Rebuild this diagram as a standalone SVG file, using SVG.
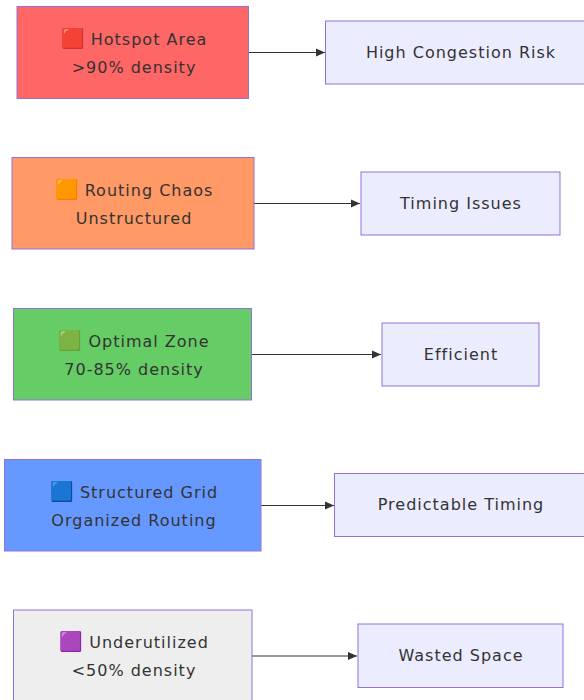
<svg xmlns="http://www.w3.org/2000/svg" width="584" height="700" viewBox="0 0 584 700">
<defs>
<marker id="arr" viewBox="0 0 10 10" refX="10" refY="5" markerWidth="10" markerHeight="9" markerUnits="userSpaceOnUse" orient="auto"><path d="M0,0.5 L10,5 L0,9.5 z" fill="#333"/></marker>
<style>
text{font-family:"DejaVu Sans",Verdana,sans-serif;font-size:16px;fill:#333;text-anchor:middle;letter-spacing:1px}
.em{font-size:19px;letter-spacing:0}
.l{stroke:#9370DB;stroke-width:1}
.r{fill:#ECECFF;stroke:#9370DB;stroke-width:1}
.e{stroke:#333;stroke-width:1.2;fill:none;marker-end:url(#arr)}
</style>
</defs>
<rect width="584" height="700" fill="#fff"/>
<g id="edges">
<path class="e" d="M249,52.5 H325"/>
<path class="e" d="M254,203.5 H360"/>
<path class="e" d="M252,354.5 H381"/>
<path class="e" d="M261,505.5 H334"/>
<path class="e" d="M252,656 H357"/>
</g>
<g id="hotspot"><rect class="l" x="17" y="6.5" width="231.5" height="92" fill="#FF6666"/><text x="134" y="45"><tspan class="em">🟥</tspan> Hotspot Area</text><text x="134" y="73">&gt;90% density</text></g>
<g id="congestion"><rect class="r" x="325.5" y="21" width="268" height="63"/><text x="461" y="58">High Congestion Risk</text></g>
<g id="chaos"><rect class="l" x="12" y="157.5" width="242" height="91.5" fill="#FF9966"/><text x="134" y="196"><tspan class="em">🟧</tspan> Routing Chaos</text><text x="134" y="224">Unstructured</text></g>
<g id="timing"><rect class="r" x="361" y="172" width="199" height="63"/><text x="461" y="209">Timing Issues</text></g>
<g id="optimal"><rect class="l" x="13.5" y="308.5" width="238" height="91.5" fill="#66CC66"/><text x="134" y="347"><tspan class="em">🟩</tspan> Optimal Zone</text><text x="134" y="375">70-85% density</text></g>
<g id="efficient"><rect class="r" x="382" y="323" width="157" height="63"/><text x="461" y="360">Efficient</text></g>
<g id="grid"><rect class="l" x="4.5" y="459.5" width="256.5" height="91.5" fill="#6699FF"/><text x="134" y="498"><tspan class="em">🟦</tspan> Structured Grid</text><text x="134" y="526">Organized Routing</text></g>
<g id="predictable"><rect class="r" x="334.5" y="473.5" width="250" height="63"/><text x="461" y="510">Predictable Timing</text></g>
<g id="under"><rect class="l" x="13.5" y="610" width="238.5" height="92" fill="#EEEEEE"/><text x="134" y="648"><tspan class="em">🟪</tspan> Underutilized</text><text x="134" y="676">&lt;50% density</text></g>
<g id="wasted"><rect class="r" x="358" y="624" width="205" height="63.5"/><text x="461" y="661">Wasted Space</text></g>
</svg>
